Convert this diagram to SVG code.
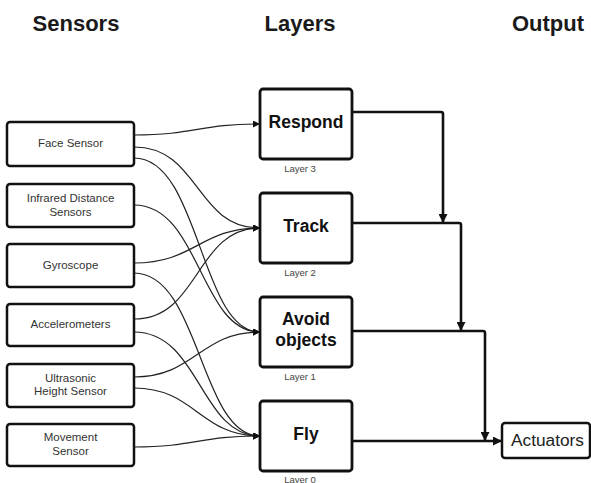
<svg xmlns="http://www.w3.org/2000/svg" width="591" height="483" viewBox="0 0 591 483">
  <defs>
    <style>
      .hdr { font-family: "Liberation Sans", Arial, sans-serif; font-weight: bold; font-size: 22px; fill: #1a1a1a; text-anchor: middle; }
      .sbox { fill: #fff; stroke: #111; stroke-width: 2.5; }
      .stxt { font-family: "Liberation Sans", Arial, sans-serif; font-size: 11.5px; fill: #333; text-anchor: middle; }
      .lbox { fill: #fff; stroke: #111; stroke-width: 2.8; }
      .ltxt { font-family: "Liberation Sans", Arial, sans-serif; font-weight: bold; font-size: 17.5px; fill: #111; text-anchor: middle; }
      .lcap { font-family: "Liberation Sans", Arial, sans-serif; font-size: 9.5px; fill: #444; text-anchor: middle; }
      .curve { fill: none; stroke: #222; stroke-width: 1.2; marker-end: url(#arrowSmall); }
      .out { fill: none; stroke: #111; stroke-width: 2.6; stroke-linejoin: round; marker-end: url(#arrowBig); }
    </style>
    <marker id="arrowSmall" viewBox="0 0 10 10" refX="10" refY="5" markerWidth="8" markerHeight="7" markerUnits="userSpaceOnUse" orient="auto">
      <path d="M0,0 L10,5 L0,10 Z" fill="#111"/>
    </marker>
    <marker id="arrowBig" viewBox="0 0 10 10" refX="10" refY="5" markerWidth="11" markerHeight="9" markerUnits="userSpaceOnUse" orient="auto">
      <path d="M0,0 L10,5 L0,10 Z" fill="#111"/>
    </marker>
  </defs>

  <rect width="591" height="483" fill="#fff"/>

  <!-- column headings -->
  <text class="hdr" x="76" y="31">Sensors</text>
  <text class="hdr" x="300" y="31">Layers</text>
  <text class="hdr" x="548" y="31">Output</text>

  <!-- sensor to layer curves -->
  <g id="connectors">
    <path class="curve" d="M134,135 C195,135 200,124 260,124"/>
    <path class="curve" d="M134,147 C200,147 195,228 260,228"/>
    <path class="curve" d="M134,158 C200,158 200,332 260,332"/>
    <path class="curve" d="M134,205 C200,205 200,332 260,332"/>
    <path class="curve" d="M134,263 C195,263 200,228 260,228"/>
    <path class="curve" d="M134,273 C200,273 200,436 260,436"/>
    <path class="curve" d="M134,319 C200,319 195,228 260,228"/>
    <path class="curve" d="M134,332 C200,332 200,436 260,436"/>
    <path class="curve" d="M134,377 C195,377 200,332 260,332"/>
    <path class="curve" d="M134,388 C195,388 200,436 260,436"/>
    <path class="curve" d="M134,447 C195,447 200,436 260,436"/>

    <!-- layer outputs merging toward the actuators -->
    <path class="out" d="M352,112 H441 Q443,112 443,114 V223"/>
    <path class="out" d="M352,223 H459 Q461,223 461,225 V331"/>
    <path class="out" d="M352,331 H483 Q485,331 485,333 V441"/>
    <path class="out" d="M352,441 H502"/>
  </g>

  <!-- sensors -->
  <g id="face-sensor">
    <rect class="sbox" x="7" y="122" width="127" height="44" rx="3"/>
    <text class="stxt" x="70.5" y="147">Face Sensor</text>
  </g>
  <g id="infrared-sensors">
    <rect class="sbox" x="7" y="184" width="127" height="43" rx="3"/>
    <text class="stxt" x="70.5" y="202">Infrared Distance</text>
    <text class="stxt" x="70.5" y="216">Sensors</text>
  </g>
  <g id="gyroscope">
    <rect class="sbox" x="7" y="244" width="127" height="43" rx="3"/>
    <text class="stxt" x="70.5" y="269">Gyroscope</text>
  </g>
  <g id="accelerometers">
    <rect class="sbox" x="7" y="304" width="127" height="42" rx="3"/>
    <text class="stxt" x="70.5" y="328">Accelerometers</text>
  </g>
  <g id="ultrasonic-sensor">
    <rect class="sbox" x="7" y="364" width="127" height="43" rx="3"/>
    <text class="stxt" x="70.5" y="382">Ultrasonic</text>
    <text class="stxt" x="70.5" y="395">Height Sensor</text>
  </g>
  <g id="movement-sensor">
    <rect class="sbox" x="7" y="424" width="127" height="42" rx="3"/>
    <text class="stxt" x="70.5" y="441">Movement</text>
    <text class="stxt" x="70.5" y="455">Sensor</text>
  </g>

  <!-- behaviour layers -->
  <g id="respond">
    <rect class="lbox" x="260" y="89" width="92" height="70" rx="3"/>
    <text class="ltxt" x="306" y="128">Respond</text>
    <text class="lcap" x="300" y="172">Layer 3</text>
  </g>
  <g id="track">
    <rect class="lbox" x="260" y="193" width="92" height="70" rx="3"/>
    <text class="ltxt" x="306" y="232">Track</text>
    <text class="lcap" x="300" y="276">Layer 2</text>
  </g>
  <g id="avoid-objects">
    <rect class="lbox" x="260" y="297" width="92" height="70" rx="3"/>
    <text class="ltxt" x="306" y="325">Avoid</text>
    <text class="ltxt" x="306" y="346">objects</text>
    <text class="lcap" x="300" y="380">Layer 1</text>
  </g>
  <g id="fly">
    <rect class="lbox" x="260" y="401" width="92" height="70" rx="3"/>
    <text class="ltxt" x="306" y="440">Fly</text>
    <text class="lcap" x="300" y="483">Layer 0</text>
  </g>

  <!-- output -->
  <g id="actuators">
    <rect class="sbox" x="502" y="423" width="88" height="35" rx="3"/>
    <text x="511" y="446" font-family="Liberation Sans, Arial, sans-serif" font-size="17.3" fill="#222">Actuators</text>
  </g>
</svg>
